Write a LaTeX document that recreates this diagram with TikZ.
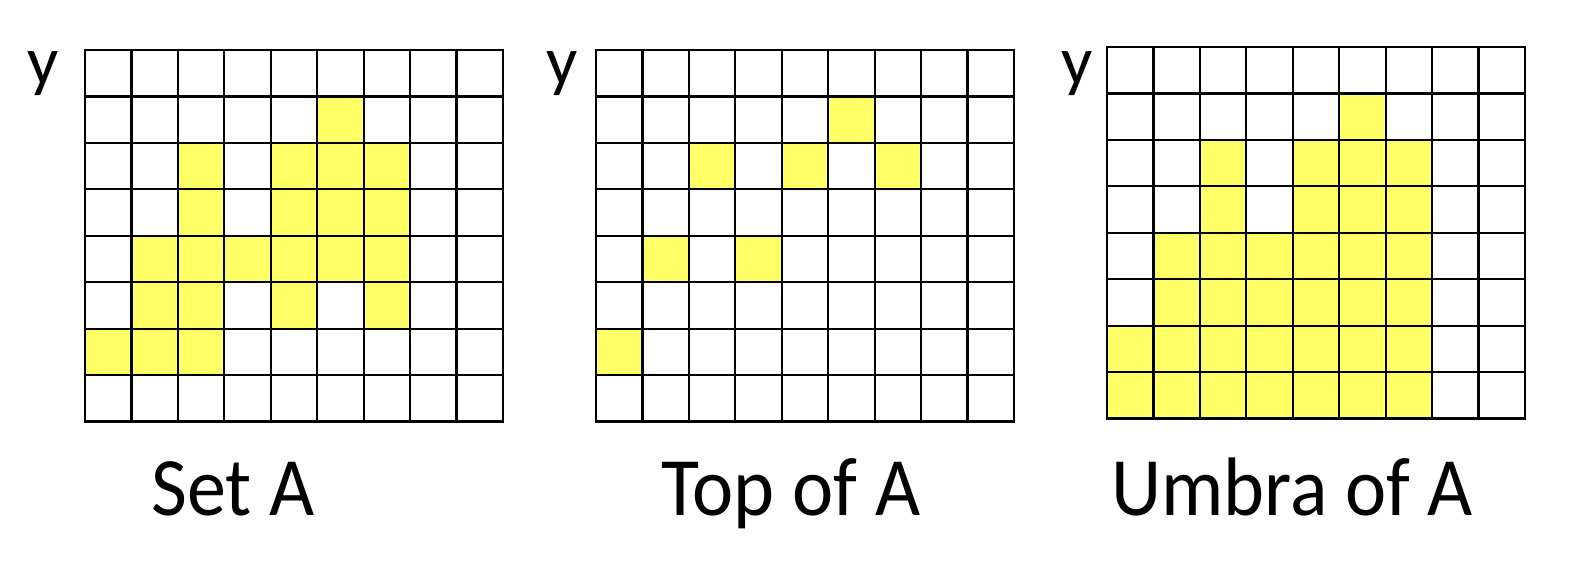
\documentclass[tikz,border=0pt]{standalone}
\usepackage{fontspec}
\setmainfont{Carlito}
\definecolor{cellyellow}{RGB}{255,255,102}
\newcommand\cellgrid[3]{%
  \begin{scope}[shift={(#1,#2)}]
    \foreach \c/\r in {#3} \fill[cellyellow] (\c*46.44,\r*46.44) rectangle ++(46.44,46.44);
    \foreach \i in {0,...,9} \draw[gridline] (\i*46.44,0) -- (\i*46.44,8*46.44);
    \foreach \j in {0,...,8} \draw[gridline] (0,\j*46.44) -- (9*46.44,\j*46.44);
  \end{scope}}
\newcommand\narrowtext[1]{\scalebox{0.94}[1]{#1}}
\begin{document}
\begin{tikzpicture}[x=1pt,y=-1pt,
  gridline/.style={line width=2.2pt,black,line cap=rect},
  caption/.style={anchor=base,inner sep=0pt,font=\fontsize{83}{90}\selectfont},
  axislabel/.style={anchor=base,inner sep=0pt,font=\fontsize{69}{75}\selectfont}]
\useasboundingbox (0,0) rectangle (1572,564);
\fill[white] (0,0) rectangle (1572,564);
\cellgrid{85}{50}{5/1,2/2,4/2,5/2,6/2,2/3,4/3,5/3,6/3,1/4,2/4,3/4,4/4,5/4,6/4,1/5,2/5,4/5,6/5,0/6,1/6,2/6}
\cellgrid{596}{50}{5/1,2/2,4/2,6/2,1/4,3/4,0/6}
\cellgrid{1107}{47}{5/1,2/2,4/2,5/2,6/2,2/3,4/3,5/3,6/3,1/4,2/4,3/4,4/4,5/4,6/4,1/5,2/5,3/5,4/5,5/5,6/5,0/6,1/6,2/6,3/6,4/6,5/6,6/6,0/7,1/7,2/7,3/7,4/7,5/7,6/7}
\node[axislabel] (y1) at (43,85) {y};
\node[axislabel] (y2) at (562,85) {y};
\node[axislabel] (y3) at (1077,85) {y};
\node[caption] (c1) at (233,515) {\narrowtext{Set A}};
\node[caption] (c2) at (791,515) {\narrowtext{Top of A}};
\node[caption] (c3) at (1292,515) {\narrowtext{Umbra of A}};
\end{tikzpicture}
\end{document}
